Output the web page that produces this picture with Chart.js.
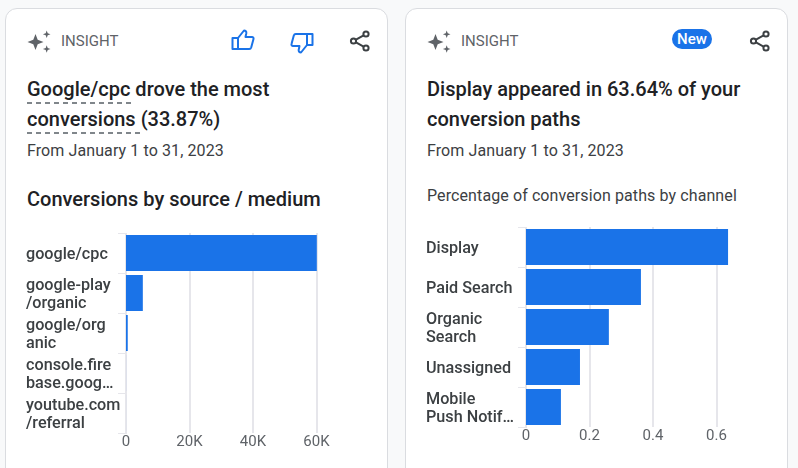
<!DOCTYPE html>
<html>
<head>
<meta charset="utf-8">
<script src="https://cdn.jsdelivr.net/npm/chart.js@4/dist/chart.umd.min.js"></script>
<style>
  html, body { margin: 0; padding: 0; width: 798px; height: 468px; overflow: hidden; background: #f8f9fa; font-family: Roboto, sans-serif; }
  .card { position: absolute; top: 8px; width: 381px; height: 480px; background: #fff; border: 1px solid #dadce0; border-radius: 12px; }
  .t { position: absolute; white-space: nowrap; }
  .tag { font-size: 15px; line-height: 20px; color: #5f6368; }
  .title { font-size: 20px; font-weight: 500; line-height: 30px; color: #202124; }
  .dash { padding-bottom: 3px; background: linear-gradient(to right, #80868b 5px, transparent 5px) left bottom / 9px 2px repeat-x; }
  .date { font-size: 16px; letter-spacing: 0.1px; line-height: 20px; color: #3c4043; }
  .new { background: #1a73e8; color: #fff; font-size: 15px; font-weight: 500; line-height: 20px; border-radius: 10px; text-align: center; width: 40px; }
  svg, canvas { position: absolute; }
</style>
</head>
<body>
<div class="card" style="left:5px"></div>
<div class="card" style="left:405px"></div>

<svg style="left:27px;top:30px" width="26" height="24" viewBox="0 0 26 24" fill="#5f6368"><path d="M8.500 4l2.200 5.800 5.800 2.200-5.800 2.200-2.200 5.800-2.200-5.800L.5 12l5.800-2.200z"/><path d="M19.700.5l1 2.800 2.800 1-2.800 1-1 2.800-1-2.800-2.800-1 2.800-1zM19.700 15.200l1 2.800 2.800 1-2.800 1-1 2.800-1-2.800-2.800-1 2.800-1z"/></svg>
<div class="t tag" style="left:61px;top:31px">INSIGHT</div>
<svg style="left:231px;top:28px" width="24" height="24" viewBox="0 0 24 24" fill="none" stroke="#1a73e8" stroke-width="2" stroke-linejoin="round"><path d="M1.500 10h5.500v11H1.500z"/><path d="M7 10l6-7.500c1.600 0 2.600 1.100 2.300 2.700L14.500 9H21c1.100 0 1.800 1 1.500 2l-2.300 8.500c-.3.900-1 1.500-2 1.500H7z"/></svg>
<svg style="left:290px;top:31px" width="24" height="24" viewBox="0 0 24 24" fill="none" stroke="#1a73e8" stroke-width="2" stroke-linejoin="round" transform="rotate(180)"><path d="M1.500 10h5.500v11H1.500z"/><path d="M7 10l6-7.500c1.600 0 2.600 1.100 2.300 2.700L14.500 9H21c1.100 0 1.800 1 1.500 2l-2.300 8.500c-.3.900-1 1.500-2 1.500H7z"/></svg>
<svg style="left:348px;top:29px" width="24" height="24" viewBox="0 0 24 24" fill="none" stroke="#3c4043" stroke-width="2"><circle cx="18" cy="5" r="2.600"/><circle cx="5.500" cy="12" r="2.600"/><circle cx="18" cy="19" r="2.600"/><path d="M8 10.600l7.600-4.300M8 13.400l7.600 4.300"/></svg>
<div class="t title" style="left:27px;top:74px"><span class="dash">Google/cpc </span>drove the most</div>
<div class="t title" style="left:27px;top:104px"><span class="dash">conversions </span>(33.87%)</div>
<div class="t date" style="left:27px;top:141px">From January 1 to 31, 2023</div>
<div class="t title" style="left:27px;top:184px">Conversions by source / medium</div>

<svg style="left:427px;top:30px" width="26" height="24" viewBox="0 0 26 24" fill="#5f6368"><path d="M8.500 4l2.200 5.800 5.800 2.200-5.800 2.200-2.200 5.800-2.200-5.800L.5 12l5.800-2.200z"/><path d="M19.700.5l1 2.800 2.800 1-2.800 1-1 2.800-1-2.800-2.800-1 2.800-1zM19.700 15.200l1 2.800 2.800 1-2.800 1-1 2.800-1-2.800-2.800-1 2.800-1z"/></svg>
<div class="t tag" style="left:461px;top:31px">INSIGHT</div>
<div class="t new" style="left:672px;top:29px">New</div>
<svg style="left:748px;top:29px" width="24" height="24" viewBox="0 0 24 24" fill="none" stroke="#3c4043" stroke-width="2"><circle cx="18" cy="5" r="2.600"/><circle cx="5.500" cy="12" r="2.600"/><circle cx="18" cy="19" r="2.600"/><path d="M8 10.600l7.600-4.300M8 13.400l7.600 4.300"/></svg>
<div class="t title" style="left:427px;top:74px">Display appeared in 63.64% of your</div>
<div class="t title" style="left:427px;top:104px">conversion paths</div>
<div class="t date" style="left:427px;top:141px">From January 1 to 31, 2023</div>
<div class="t date" style="left:427px;top:186px">Percentage of conversion paths by channel</div>

<canvas id="graficoFontes" style="left:26px;top:233px"></canvas>
<canvas id="graficoCanais" style="left:426px;top:227px"></canvas>

<script>
// Dados
const fontes = [['google/cpc'], ['google-play', '/organic'], ['google/org', 'anic'], ['console.fire', 'base.goog…'], ['youtube.com', '/referral']];
const conversoes = [60100, 5300, 550, 12, 6];
const canais = [['Display'], ['Paid Search'], ['Organic', 'Search'], ['Unassigned'], ['Mobile', 'Push Notif…']];
const percentuais = [0.6364, 0.362, 0.261, 0.17, 0.11];

function zerarPadding(escala) {
    escala.paddingTop = 0;
    escala.paddingBottom = 0;
    escala.paddingLeft = 0;
    escala.paddingRight = 0;
}

// Desce os rótulos do eixo y 2px, como no original
const descerRotulos = {
    id: 'descerRotulos',
    beforeDraw(chart) {
        chart.scales.y.getLabelItems().forEach(item => {
            item.options.translation[1] += 2;
        });
    }
};

function criarGrafico(id, labels, valores, maximo, passo, formato) {
    const canvas = document.getElementById(id);
    canvas.width = 354;
    canvas.height = 225;
    canvas.style.width = '354px';
    canvas.style.height = '225px';

    return new Chart(canvas.getContext('2d'), {
        type: 'bar',
        plugins: [descerRotulos],
        data: {
            labels: labels,
            datasets: [{
                data: valores,
                backgroundColor: '#1a73e8',
                barPercentage: 1,
                categoryPercentage: 0.9
            }]
        },
        options: {
            indexAxis: 'y',
            responsive: false,
            animation: false,
            layout: { padding: 0 },
            plugins: { legend: { display: false }, tooltip: { enabled: false } },
            scales: {
                x: {
                    min: 0,
                    max: maximo,
                    // A última marca fica fora do gráfico original
                    afterBuildTicks: function(escala) {
                        escala.ticks = escala.ticks.filter(t => t.value < maximo);
                    },
                    afterFit: function(escala) {
                        escala.height = 25;
                        zerarPadding(escala);
                    },
                    border: { display: false },
                    // A linha do zero vem da borda do eixo y, senão a barra perde 1px
                    grid: {
                        color: '#e6e6eb',
                        lineWidth: function(contexto) {
                            return contexto.tick && contexto.tick.value === 0 ? 0 : 2;
                        },
                        drawTicks: false
                    },
                    ticks: {
                        stepSize: passo,
                        maxRotation: 0,
                        padding: 0,
                        color: '#5f6368',
                        font: { family: 'Roboto', size: 15 },
                        callback: formato
                    }
                },
                y: {
                    afterFit: function(escala) {
                        escala.width = 100;
                        zerarPadding(escala);
                    },
                    border: { display: true, color: '#e6e6eb', width: 2 },
                    grid: { drawOnChartArea: false, color: '#e6e6eb', tickLength: 8 },
                    ticks: {
                        crossAlign: 'far',
                        autoSkip: false,
                        padding: 4,
                        color: '#3c4043',
                        font: { family: 'Roboto', size: 16.2, weight: '500', lineHeight: 1.11 }
                    }
                }
            }
        }
    });
}

criarGrafico('graficoFontes', fontes, conversoes, 80000, 20000, function(valor) {
    return valor === 0 ? '0' : (valor / 1000) + 'K';
});
criarGrafico('graficoCanais', canais, percentuais, 0.8, 0.2, function(valor) {
    return valor;
});
</script>
</body>
</html>
